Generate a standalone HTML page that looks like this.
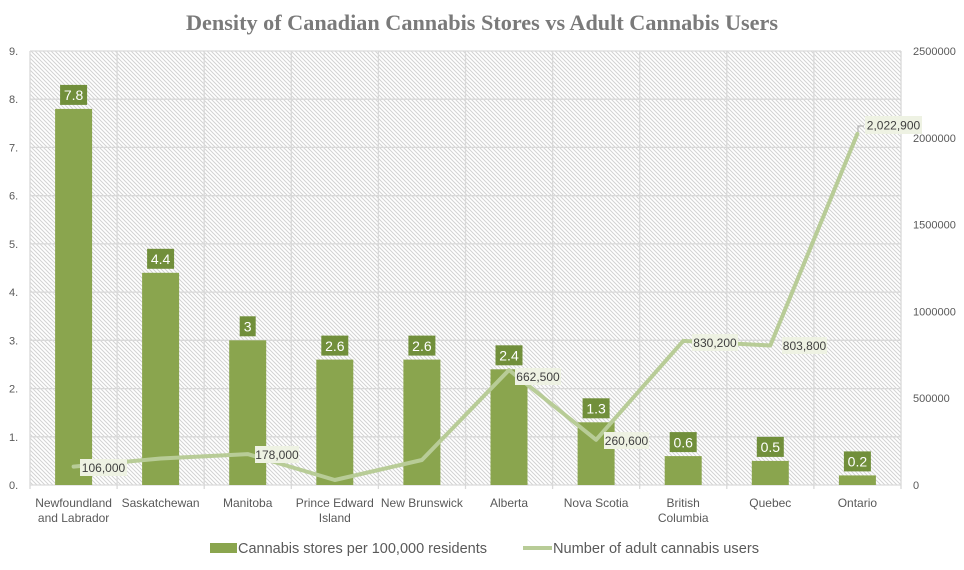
<!DOCTYPE html>
<html><head><meta charset="utf-8"><style>
html,body{margin:0;padding:0;background:#fff;}
svg{display:block;}
text{font-family:"Liberation Sans",sans-serif;}
</style></head><body>
<svg width="964" height="570" viewBox="0 0 964 570" xmlns="http://www.w3.org/2000/svg">
<defs>
<pattern id="h" patternUnits="userSpaceOnUse" width="4" height="4">
<rect width="4" height="4" fill="#ffffff"/>
<path d="M0,0 L4,4 M-1,3 L1,5 M3,-1 L5,1" stroke="#d2d2d2" stroke-width="1"/>
</pattern>
</defs>
<rect width="964" height="570" fill="#fff"/>
<text x="186" y="30" font-family="Liberation Serif,serif" font-weight="bold" font-size="22" fill="#7a7a7a" textLength="592" lengthAdjust="spacingAndGlyphs" style="font-family:'Liberation Serif',serif">Density of Canadian Cannabis Stores vs Adult Cannabis Users</text>

<rect x="30" y="51" width="871" height="434" fill="url(#h)"/>
<g stroke="#d9d9d9" stroke-width="1.3">
<line x1="30" y1="51" x2="901" y2="51"/>
<line x1="30" y1="99.2" x2="901" y2="99.2"/>
<line x1="30" y1="147.4" x2="901" y2="147.4"/>
<line x1="30" y1="195.7" x2="901" y2="195.7"/>
<line x1="30" y1="243.9" x2="901" y2="243.9"/>
<line x1="30" y1="292.1" x2="901" y2="292.1"/>
<line x1="30" y1="340.3" x2="901" y2="340.3"/>
<line x1="30" y1="388.6" x2="901" y2="388.6"/>
<line x1="30" y1="436.8" x2="901" y2="436.8"/>
<line x1="30" y1="485" x2="901" y2="485"/>
<line x1="30" y1="51" x2="30" y2="489"/>
<line x1="117.1" y1="51" x2="117.1" y2="489"/>
<line x1="204.2" y1="51" x2="204.2" y2="489"/>
<line x1="291.3" y1="51" x2="291.3" y2="489"/>
<line x1="378.4" y1="51" x2="378.4" y2="489"/>
<line x1="465.5" y1="51" x2="465.5" y2="489"/>
<line x1="552.6" y1="51" x2="552.6" y2="489"/>
<line x1="639.7" y1="51" x2="639.7" y2="489"/>
<line x1="726.8" y1="51" x2="726.8" y2="489"/>
<line x1="813.9" y1="51" x2="813.9" y2="489"/>
<line x1="901" y1="51" x2="901" y2="489"/>
</g>

<g fill="#595959" font-size="11">
<text x="9" y="55">9.</text>
<text x="9" y="103.2">8.</text>
<text x="9" y="151.4">7.</text>
<text x="9" y="199.7">6.</text>
<text x="9" y="247.9">5.</text>
<text x="9" y="296.1">4.</text>
<text x="9" y="344.3">3.</text>
<text x="9" y="392.6">2.</text>
<text x="9" y="440.8">1.</text>
<text x="9" y="489">0.</text>
<text x="913" y="55">2500000</text>
<text x="913" y="141.8">2000000</text>
<text x="913" y="228.6">1500000</text>
<text x="913" y="315.4">1000000</text>
<text x="913" y="402.2">500000</text>
<text x="913" y="489">0</text>
</g>

<g fill="#8aa54e">
<rect x="55.1" y="108.9" width="37" height="376.1"/>
<rect x="142.1" y="272.8" width="37" height="212.2"/>
<rect x="229.2" y="340.3" width="37" height="144.7"/>
<rect x="316.3" y="359.6" width="37" height="125.4"/>
<rect x="403.4" y="359.6" width="37" height="125.4"/>
<rect x="490.5" y="369.3" width="37" height="115.7"/>
<rect x="577.6" y="422.3" width="37" height="62.7"/>
<rect x="664.7" y="456.1" width="37" height="28.9"/>
<rect x="751.8" y="460.9" width="37" height="24.1"/>
<rect x="838.9" y="475.4" width="37" height="9.6"/>
</g>

<g fill="#718f3b">
<rect x="60.1" y="84.9" width="27" height="20"/>
<rect x="147.1" y="248.8" width="27" height="20"/>
<rect x="239.7" y="316.3" width="16" height="20"/>
<rect x="321.3" y="335.6" width="27" height="20"/>
<rect x="408.4" y="335.6" width="27" height="20"/>
<rect x="495.5" y="345.3" width="27" height="20"/>
<rect x="582.6" y="398.3" width="27" height="20"/>
<rect x="669.7" y="432.1" width="27" height="20"/>
<rect x="756.8" y="436.9" width="27" height="20"/>
<rect x="843.9" y="451.4" width="27" height="20"/>
</g>
<g fill="#ffffff" font-size="14" text-anchor="middle">
<text x="73.6" y="100">7.8</text>
<text x="160.6" y="264">4.4</text>
<text x="247.7" y="331.5">3</text>
<text x="334.8" y="350.8">2.6</text>
<text x="421.9" y="350.8">2.6</text>
<text x="509" y="360.5">2.4</text>
<text x="596.1" y="413.5">1.3</text>
<text x="683.2" y="447.3">0.6</text>
<text x="770.3" y="452.1">0.5</text>
<text x="857.4" y="466.6">0.2</text>
</g>

<polyline points="73.6,466.6 160.6,458.5 247.7,454.1 334.8,480 421.9,460 509,370 596.1,439.8 683.2,340.9 770.3,345.5 857.4,133.8" fill="none" stroke="#b8cc97" stroke-width="4" stroke-linejoin="round" stroke-linecap="round"/>

<path d="M858,132 L858,126 L864,126" fill="none" stroke="#a6a6a6" stroke-width="1"/>

<g fill="#eef2e3">
<rect x="80" y="459" width="47" height="17"/>
<rect x="255" y="446" width="44" height="17"/>
<rect x="515" y="368" width="46" height="17"/>
<rect x="604" y="432" width="45" height="17"/>
<rect x="692" y="334" width="46" height="17"/>
<rect x="782" y="337" width="45" height="17"/>
<rect x="865" y="116" width="57" height="18"/>
</g>
<g fill="#404040" font-size="12" text-anchor="middle">
<text x="103.5" y="472">106,000</text>
<text x="277" y="459">178,000</text>
<text x="538" y="381">662,500</text>
<text x="626.5" y="445">260,600</text>
<text x="715" y="347">830,200</text>
<text x="804.5" y="350">803,800</text>
<text x="893.5" y="129.5">2,022,900</text>
</g>

<g fill="#595959" font-size="12" text-anchor="middle">
<text x="73.6" y="507">Newfoundland</text>
<text x="73.6" y="522">and Labrador</text>
<text x="160.6" y="507">Saskatchewan</text>
<text x="247.7" y="507">Manitoba</text>
<text x="334.8" y="507">Prince Edward</text>
<text x="334.8" y="522">Island</text>
<text x="421.9" y="507">New Brunswick</text>
<text x="509" y="507">Alberta</text>
<text x="596.1" y="507">Nova Scotia</text>
<text x="683.2" y="507">British</text>
<text x="683.2" y="522">Columbia</text>
<text x="770.3" y="507">Quebec</text>
<text x="857.4" y="507">Ontario</text>
</g>

<rect x="210" y="543" width="27" height="10" fill="#8aa54e"/>
<text x="238" y="553" font-size="14.5" fill="#595959" textLength="249" lengthAdjust="spacingAndGlyphs">Cannabis stores per 100,000 residents</text>
<line x1="523" y1="548" x2="552" y2="548" stroke="#b8cc97" stroke-width="4"/>
<text x="553" y="553" font-size="14.5" fill="#595959" textLength="206" lengthAdjust="spacingAndGlyphs">Number of adult cannabis users</text>
</svg>
</body></html>
